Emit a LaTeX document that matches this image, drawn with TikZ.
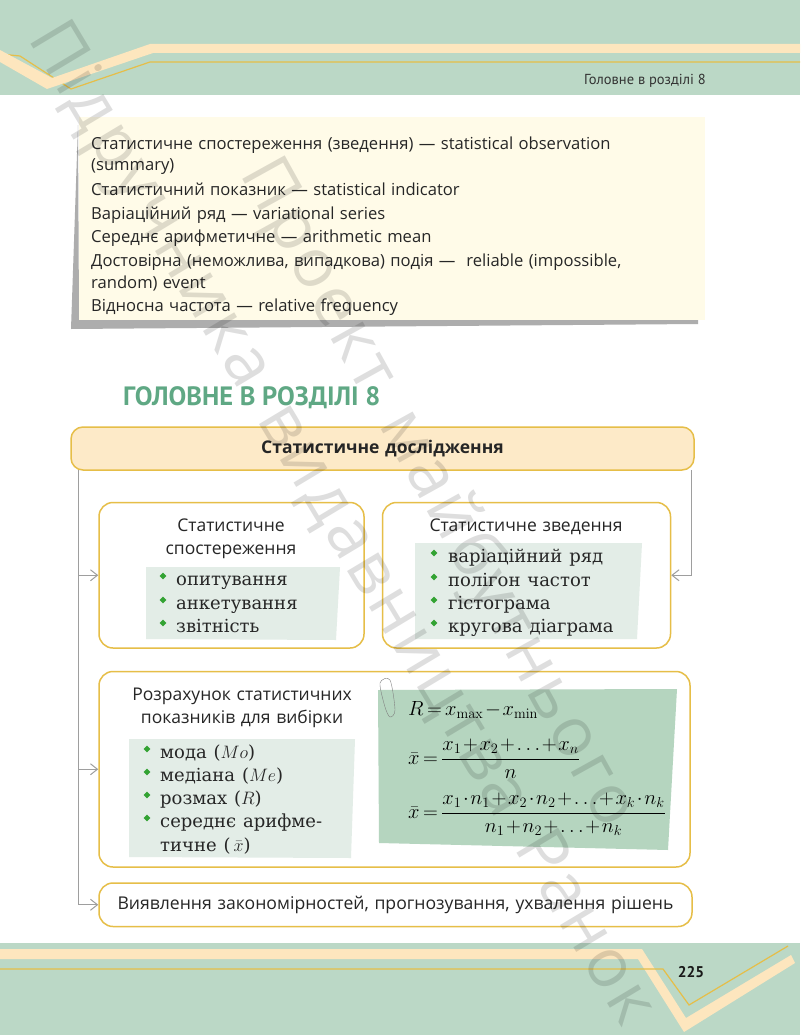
\documentclass[tikz,border=0pt]{standalone}
\usepackage[no-math]{fontspec}
\usepackage{fix-cm}
\usepackage{amsmath}
\setmainfont[WordSpace=1.25]{Open Sans}
\newfontfamily\itemfont[WordSpace=1.2]{DejaVu Serif}
\newfontfamily\thinfont{PT Sans}
\newfontfamily\stampfont[LetterSpace=5,WordSpace=1.5]{Open Sans}
\usetikzlibrary{arrows.meta, positioning, shapes.geometric}
\definecolor{bandgreen}{HTML}{BBD8C6}
\definecolor{stripe}{HTML}{FDE6BE}
\definecolor{goldline}{HTML}{E6BE48}
\definecolor{notefill}{HTML}{FFFBE8}
\definecolor{panelpale}{HTML}{E3EDE7}
\definecolor{paneldark}{HTML}{B5D5BF}
\definecolor{titlegreen}{HTML}{5FA884}

\begin{document}
\begin{tikzpicture}[
    x=1pt,
    y=-1pt,
    box/.style={
        draw=goldline,
        fill=white,
        rounded corners=14pt,
        line width=1.5pt,
        inner sep=0pt
    },
    heading/.style={
        align=center,
        font=\fontsize{17.5}{23.5}\selectfont,
        text=black!85
    },
    term/.style={
        anchor=base west,
        inner sep=0pt,
        font=\fontsize{16.6}{20}\selectfont,
        text=black!85
    },
    item/.style={
        anchor=base west,
        inner sep=0pt,
        font=\fontsize{18}{20}\itemfont,
        text=black!85
    },
    bullet/.style={
        diamond,
        fill=green!55!black!80,
        inner sep=0pt,
        minimum size=7pt
    },
    formula/.style={
        anchor=west,
        inner sep=0pt,
        font={\fontsize{20.5}{20}\selectfont\medmuskip=1.5mu\thickmuskip=3mu\relax}
    },
    arrow/.style={
        -{Straight Barb[length=7pt,width=11pt]},
        line width=1pt,
        draw=black!38
    },
    stamp/.style={
        rotate=-59,
        anchor=west,
        inner sep=0pt,
        font=\fontsize{68}{70}\stampfont,
        text=black,
        opacity=0.13
    }
]

\fill [white] (0,0) rectangle (800,1035);
\useasboundingbox (0,0) rectangle (800,1035);

% Bands
\fill [bandgreen] (0,0) rectangle (800,95);
\fill [bandgreen] (0,943) rectangle (800,1035);
\draw [goldline, line width=1.2pt] (0,54) -- (20,56) -- (71,89) -- (150,62) -- (800,62);
\fill [stripe] (0,50) -- (52,78) -- (150,44) -- (800,44) -- (800,53) -- (153,53) -- (47,89) -- (0,62) -- cycle;
\fill [stripe] (0,949) -- (642,949) -- (686,1018) -- (791,955) -- (795,963) -- (684,1032) -- (638,959) -- (0,959) -- cycle;
\draw [goldline, line width=1.2pt] (0,969) -- (663,969) -- (689,1005) -- (788,946);
\node (running) [anchor=base east, inner sep=0pt, font=\fontsize{14.5}{16}\thinfont, text=black!80] at (706,85) {Головне в розділі 8};
\node (page) [anchor=base, inner sep=0pt, font=\fontsize{15.5}{16}\thinfont\bfseries, text=black!90] at (691,977) {225};

% Glossary
\fill [black!32] (78,125) -- (71,329) -- (698,324) -- (698,318) -- (79,318) -- cycle;
\fill [notefill] (79,117) rectangle (705,320);
\foreach \y/\txt in {
    150/{Статистичне спостереження (зведення) — statistical observation},
    171/{(summary)},
    195/{Статистичний показник — statistical indicator},
    219/{Варіаційний ряд — variational series},
    242/{Середнє арифметичне — arithmetic mean},
    266/{Достовірна (неможлива, випадкова) подія —~ reliable (impossible,},
    288/{random) event},
    311/{Відносна частота — relative frequency}}
    \node (term\y) [term] at (91,\y) {\txt};

\node (title) [anchor=base west, inner sep=0pt, font=\fontsize{26.5}{28}\thinfont\bfseries, text=titlegreen] at (123,405) {ГОЛОВНЕ В РОЗДІЛІ 8};

% Boxes
\node (main) [box, fill=stripe!85, rounded corners=12pt, minimum width=623pt, minimum height=43pt, font=\fontsize{17.5}{20}\selectfont\bfseries, text=black!85] at (382.5,448.5) {Статистичне дослідження};
\node (obs) [box, minimum width=265pt, minimum height=145.5pt, below right=31pt and 28pt of main.south west] {};
\node (summ) [box, minimum width=288pt, minimum height=145.5pt, right=17pt of obs] {};
\node (calc) [box, minimum width=591pt, minimum height=195.5pt, below right=22pt and 0pt of obs.south west] {};
\node (last) [box, minimum width=593pt, minimum height=43.5pt, below right=14.5pt and 0pt of calc.south west, font=\fontsize{17.6}{20}\selectfont, text=black!85] {Виявлення закономірностей, прогнозування, ухвалення рішень};

% Panels
\fill [panelpale] (146,567) -- (340,567) -- (336,640) -- (146,639) -- cycle;
\fill [panelpale] (415,543) -- (642,543) -- (637,639) -- (415,639) -- cycle;
\fill [panelpale] (129,739) -- (355,739) -- (351,858) -- (129,857) -- cycle;
\fill [paneldark] (378,690) -- (677,689) -- (668,850) -- (379,843) -- cycle;
\draw [black!50] plot [smooth cycle] coordinates {(380,683) (390,680) (395,710) (390,717) (385,707)};

\node (obshead) [heading] at (231,539) {Статистичне\\спостереження};
\node (summhead) [heading] at (526,527) {Статистичне зведення};
\node (calchead) [heading] at (242,708) {Розрахунок статистичних\\показників для вибірки};

\foreach \y/\txt in {585/опитування, 609/анкетування, 632/звітність} {
    \node (obsdot\y) [bullet] at (163,\y-9) {};
    \node (obsitem\y) [item] at (176,\y) {\txt};
}
\foreach \y/\txt in {562/варіаційний ряд, 586/полігон частот, 609/гістограма, 632/кругова діаграма} {
    \node (summdot\y) [bullet] at (434,\y-9) {};
    \node (summitem\y) [item] at (448,\y) {\txt};
}
\foreach \y/\txt in {758/мода ($Mo$), 781/медіана ($Me$), 804/розмах ($R$), 827/середнє арифме-, 851/тичне ($\,\bar{x}$)} {
    \node (calcitem\y) [item] at (160,\y) {\txt};
}
\foreach \y in {758,781,804,827} {
    \node (calcdot\y) [bullet] at (147,\y-9) {};
}

% Formulas
\node (range) [formula, anchor=base west] at (408,715) {$R=x_{\max}-x_{\min}$};
\node (mean) [formula] at (408,759) {$\bar{x}=\dfrac{x_1+x_2+{\ldotp\ldotp\ldotp}+x_n}{n}$};
\node (weighted) [formula] at (408,814) {$\bar{x}=\dfrac{x_1\cdot n_1+x_2\cdot n_2+{\ldotp\ldotp\ldotp}+x_k\cdot n_k}{n_1+n_2+{\ldotp\ldotp\ldotp}+n_k}$};

% Paths
\coordinate (left) at (78,470);
\coordinate (right) at (691,470);
\draw [arrow] (left) |- (obs.west);
\draw [arrow] (left) |- (calc.west);
\draw [arrow] (left) |- (last.west);
\draw [arrow] (right) |- (summ.east);

% Stamps
\node (stamp1) [stamp] at (42,30) {Підручника видавництва Ранок};
\node (stamp2) [stamp, rotate=-2] at (255,165) {Проект майбутнього};

\end{tikzpicture}
\end{document}
